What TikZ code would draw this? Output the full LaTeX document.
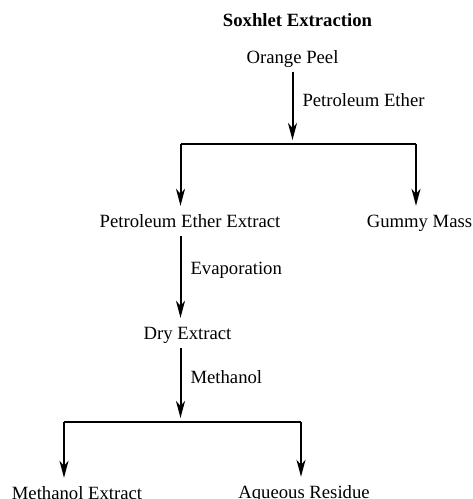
\documentclass[tikz,border=0pt]{standalone}
\usepackage{fontspec}
\setmainfont{Liberation Serif}
\usepackage{tikz}
\usetikzlibrary{positioning,arrows.meta,calc}
\tikzset{
  node-text/.style={inner xsep=0pt,inner ysep=9pt,text height=12pt,text depth=0pt,
    font=\fontsize{18.7}{22}\selectfont},
  node-title/.style={node-text,font=\fontsize{18.7}{22}\selectfont\bfseries},
  arrow/.style={-{Stealth[length=17pt,width=9pt,inset=5pt]},line width=2pt,draw=black},
  branch/.style={line width=1.3pt,draw=black},
  step-label/.style={right=9pt,pos=0.4,inner sep=0pt,text height=12pt,text depth=0pt,
    font=\fontsize{18.7}{22}\selectfont},
}

\begin{document}
\begin{tikzpicture}[x=1pt,y=-1pt]
  \useasboundingbox (0,0) rectangle (473,499);
  \node[node-title] (ttl) at (297.5,20)  {Soxhlet Extraction};
  \node[node-text]  (op)  at (292.5,57)  {Orange Peel};
  \node[node-text]  (pee) at (190,221)   {Petroleum Ether Extract};
  \node[node-text]  (gm)  at (419.5,221) {Gummy Mass};
  \node[node-text]  (de)  at (187.5,333) {Dry Extract};
  \node[node-text]  (me)  at (77,493)    {Methanol Extract};
  \node[node-text]  (ar)  at (304,492)   {Aqueous Residue};
  % branch points
  \coordinate (b1)  at (292.5,144);
  \coordinate (b1l) at (180.5,144);
  \coordinate (b1r) at (416,144);
  \coordinate (b2)  at (180.5,422);
  \coordinate (b2l) at (64,422);
  \coordinate (b2r) at (301,422);
  \draw[arrow,shorten >=4pt] (op) -- node[step-label]{Petroleum Ether} (b1);
  \draw[branch] (b1l) -- (b1r);
  \draw[arrow] (b1l) -- (b1l |- pee.north);
  \draw[arrow] (b1r) -- (b1r |- gm.north);
  \draw[arrow] (b1l |- pee.south) -- node[step-label]{Evaporation} (b1l |- de.north);
  \draw[arrow,shorten >=4pt] (b2 |- de.south) -- node[step-label]{Methanol} (b2);
  \draw[branch] (b2l) -- (b2r);
  \draw[arrow] (b2l) -- (b2l |- me.north);
  \draw[arrow] (b2r) -- (b2r |- ar.north);
\end{tikzpicture}
\end{document}
